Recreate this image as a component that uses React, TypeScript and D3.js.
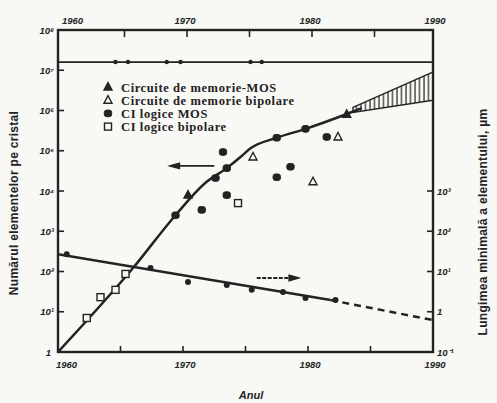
import React from "react";
import * as d3 from "d3";

// number of elements per chip (left axis), points along the trend curve
const trendCurve: [number, number][] = [
  [1960, 1], [1966, 122], [1969.4, 2.5e3], [1971.8, 1.6e4], [1973.5, 3.7e4],
  [1974.6, 7e4], [1975.4, 1.15e5], [1977.5, 2.1e5], [1979.8, 3.5e5],
  [1983.1, 8.2e5], [1984.3, 1.15e6],
];
// projection band (hatched)
const projUpper: [number, number][] = [[1983.6, 1.2e6], [1990, 9e6]];
const projLower: [number, number][] = [[1983.6, 9e5], [1990, 1.8e6]];

// scatter points, [year, value]
const memMOS: [number, number][] = [[1970.4, 7.9e3], [1983.1, 8e5]];
const memBipolar: [number, number][] = [[1975.6, 7e4], [1980.4, 1.7e4], [1982.4, 2.2e5]];
const logicMOS: [number, number][] = [
  [1969.4, 2.5e3], [1971.5, 3.4e3], [1972.6, 2.1e4], [1973.2, 9.3e4], [1973.5, 7.9e3],
  [1973.5, 3.7e4], [1977.5, 2.1e5], [1977.5, 2.2e4], [1978.6, 4e4], [1979.8, 3.5e5],
  [1981.5, 2.2e5],
];
const logicBipolar: [number, number][] = [
  [1962.3, 7], [1963.4, 23], [1964.6, 35], [1965.4, 87], [1974.4, 5e3],
];

// reference line near 10^7
const limitValue = 1.6e7;
const limitDots = [1964.6, 1965.6, 1968.7, 1969.8, 1975.4, 1976.3];

// minimum element length (right axis, µm)
const lengthSolid: [number, number][] = [[1960, 27], [1981.8, 1.95]];
const lengthDashed: [number, number][] = [[1981.8, 1.95], [1990, 0.62]];
const lengthPoints: [number, number][] = [
  [1960.7, 27], [1967.4, 12.2], [1970.4, 5.5], [1973.5, 4.6], [1975.5, 3.5],
  [1978, 3.1], [1979.8, 2.2], [1982.2, 1.95],
];

const yearLabels = [1960, 1970, 1980, 1990];
const yearTicks = [1965, 1970, 1975, 1980, 1985];
const leftTicks = [1, 10, 100, 1e3, 1e4, 1e5, 1e6, 1e7, 1e8];
const leftTickLabels = ["1", "10¹", "10²", "10³", "10⁴", "10⁵", "10⁶", "10⁷", "10⁸"];
const rightTicks = [0.1, 1, 10, 100, 1000];
const rightTickLabels = ["10⁻¹", "1", "10¹", "10²", "10³"];

const legendItems = [
  { kind: "triFilled", label: "Circuite de memorie-MOS" },
  { kind: "triOpen", label: "Circuite de memorie bipolare" },
  { kind: "sqFilled", label: "CI logice MOS" },
  { kind: "sqOpen", label: "CI logice bipolare" },
];

const INK = "#232323";

const Marker = ({ kind, x, y }: { kind: string; x: number; y: number }) => {
  const s = 4;
  if (kind === "triFilled" || kind === "triOpen") {
    const p = `${x},${y - s - 0.5} ${x - s},${y + s - 1} ${x + s},${y + s - 1}`;
    return (
      <polygon points={p} fill={kind === "triFilled" ? INK : "#f7f7f4"} stroke={INK} strokeWidth={1.4} />
    );
  }
  if (kind === "sqFilled") {
    return <rect x={x - 3.7} y={y - 3.3} width={7.4} height={6.6} rx={2.5} fill={INK} stroke={INK} strokeWidth={1} />;
  }
  return <rect x={x - 3.5} y={y - 3.5} width={7} height={7} fill="#f7f7f4" stroke={INK} strokeWidth={1.4} />;
};

const App = () => {
  const W = 497, H = 403;
  const x = d3.scaleLinear().domain([1960, 1990]).range([58, 433]);
  const yL = d3.scaleLog().domain([1, 1e8]).range([352, 30]);
  const yR = d3.scaleLog().domain([0.1, 1e7]).range([352, 30]);
  const left = x(1960), right = x(1990), top = yL(1e8), bottom = yL(1);

  const trendLine = d3.line<[number, number]>().x((d) => x(d[0])).y((d) => yL(d[1])).curve(d3.curveMonotoneX);
  const straight = d3.line<[number, number]>().x((d) => x(d[0])).y((d) => yR(d[1]));
  const bandPts = [...projUpper, ...projLower.slice().reverse()];
  const bandPath = "M" + bandPts.map((d) => `${x(d[0])},${yL(d[1])}`).join("L") + "Z";

  const tickFont = { fontFamily: "Liberation Sans, Arial, sans-serif", fontWeight: 700, fontSize: 9.5, fill: INK };

  return (
    <svg width={W} height={H} style={{ position: "absolute", left: 0, top: 0, background: "#f8f8f5" }}>
      <defs>
        <pattern id="hatch" width={4.5} height={10} patternUnits="userSpaceOnUse">
          <line x1={1} y1={0} x2={1} y2={10} stroke={INK} strokeWidth={1.2} />
        </pattern>
        <clipPath id="plot">
          <rect x={left} y={top} width={right - left} height={bottom - top} />
        </clipPath>
      </defs>

      {/* frame */}
      <rect x={left} y={top} width={right - left} height={bottom - top} fill="none" stroke={INK} strokeWidth={2.4} />

      {/* year ticks, top and bottom, inward */}
      {yearTicks.map((t) => (
        <g key={t}>
          <line x1={x(t)} x2={x(t)} y1={bottom} y2={bottom - 6} stroke={INK} strokeWidth={1.6} />
          <line x1={x(t) + 4} x2={x(t) + 4} y1={top} y2={top + 7} stroke={INK} strokeWidth={1.6} />
        </g>
      ))}
      {yearLabels.map((t) => (
        <g key={t}>
          <text x={t === 1960 ? x(t) + 4 : x(t) + 2} y={24} textAnchor={t === 1960 ? "start" : "middle"} fontStyle="italic" {...tickFont}>
            {t}
          </text>
          <text x={t === 1960 ? x(t) - 2 : x(t) + 2} y={368} textAnchor={t === 1960 ? "start" : "middle"} fontStyle="italic" {...tickFont}>
            {t}
          </text>
        </g>
      ))}

      {/* left axis ticks */}
      {leftTicks.map((v, i) => (
        <g key={v}>
          {i > 0 && i < leftTicks.length - 1 && (
            <line x1={left} x2={left + 6} y1={yL(v)} y2={yL(v)} stroke={INK} strokeWidth={1.6} />
          )}
          <text x={i === 0 ? 51 : 54} y={yL(v) + 3.5} textAnchor="end" fontStyle="italic" {...tickFont}>
            {leftTickLabels[i]}
          </text>
        </g>
      ))}

      {/* right axis ticks */}
      {rightTicks.map((v, i) => (
        <g key={v}>
          {i > 0 && <line x1={right - 6} x2={right} y1={yR(v)} y2={yR(v)} stroke={INK} strokeWidth={1.6} />}
          <text x={right + 4} y={yR(v) + 3.5} textAnchor="start" fontStyle="italic" {...tickFont}>
            {rightTickLabels[i]}
          </text>
        </g>
      ))}

      <g clipPath="url(#plot)">
        {/* limit line */}
        <line x1={left} x2={right} y1={yL(limitValue)} y2={yL(limitValue)} stroke={INK} strokeWidth={1.8} />
        {limitDots.map((d) => (
          <circle key={d} cx={x(d)} cy={yL(limitValue)} r={2.2} fill={INK} />
        ))}

        {/* trend of elements per chip */}
        <path d={trendLine(trendCurve) || ""} fill="none" stroke={INK} strokeWidth={2.5} />
        <path d={bandPath} fill="url(#hatch)" stroke={INK} strokeWidth={1.4} />

        {/* minimum element length */}
        <path d={straight(lengthSolid) || ""} fill="none" stroke={INK} strokeWidth={2.5} />
        <path d={straight(lengthDashed) || ""} fill="none" stroke={INK} strokeWidth={2.5} strokeDasharray="7,5" />
        {lengthPoints.map((d, i) => (
          <circle key={i} cx={x(d[0])} cy={yR(d[1])} r={3} fill={INK} />
        ))}

        {logicBipolar.map((d, i) => <Marker key={"lb" + i} kind="sqOpen" x={x(d[0])} y={yL(d[1])} />)}
        {logicMOS.map((d, i) => <Marker key={"lm" + i} kind="sqFilled" x={x(d[0])} y={yL(d[1])} />)}
        {memBipolar.map((d, i) => <Marker key={"mb" + i} kind="triOpen" x={x(d[0])} y={yL(d[1])} />)}
        {memMOS.map((d, i) => <Marker key={"mm" + i} kind="triFilled" x={x(d[0])} y={yL(d[1])} />)}
      </g>

      {/* direction arrows */}
      <g stroke={INK} strokeWidth={1.8} fill={INK}>
        <line x1={x(1972.5)} x2={x(1969.3)} y1={yL(4.2e4)} y2={yL(4.2e4)} />
        <polygon points={`${x(1969)},${yL(4.2e4)} ${x(1969.7)},${yL(4.2e4) - 2.5} ${x(1969.7)},${yL(4.2e4) + 2.5}`} />
        <line x1={x(1975.9)} x2={x(1978.9)} y1={yR(6.9)} y2={yR(6.9)} strokeDasharray="4,1.5" />
        <polygon points={`${x(1979.2)},${yR(6.9)} ${x(1978.5)},${yR(6.9) - 2.5} ${x(1978.5)},${yR(6.9) + 2.5}`} />
      </g>

      {/* legend */}
      {legendItems.map((it, i) => (
        <g key={it.label}>
          <Marker kind={it.kind} x={108} y={87 + i * 13.2} />
          <text
            x={121}
            y={91.5 + i * 13.2}
            fontFamily="Liberation Serif, Times New Roman, serif"
            fontWeight={700}
            fontSize={12.5}
            letterSpacing={0.6}
            fill={INK}
          >
            {it.label}
          </text>
        </g>
      ))}

      {/* axis titles */}
      <text
        transform="translate(18,203) rotate(-90)"
        textAnchor="middle"
        fontFamily="Liberation Sans, Arial, sans-serif"
        fontWeight={700}
        fontSize={12}
        letterSpacing={0.3}
        fill={INK}
      >
        Numărul elementelor pe cristal
      </text>
      <text
        transform="translate(487,222) rotate(-90)"
        textAnchor="middle"
        fontFamily="Liberation Sans, Arial, sans-serif"
        fontWeight={700}
        fontSize={12}
        letterSpacing={0.3}
        fill={INK}
      >
        Lungimea minimală a elementului, µm
      </text>
      <text x={251} y={399} textAnchor="middle" fontFamily="Liberation Sans, Arial, sans-serif" fontWeight={700} fontStyle="italic" fontSize={11} fill={INK}>
        Anul
      </text>
    </svg>
  );
};

export default App;
